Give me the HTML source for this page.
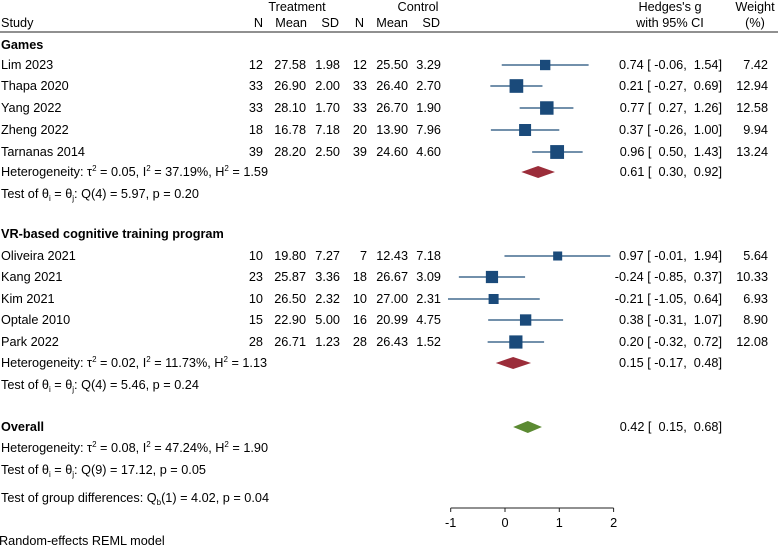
<!DOCTYPE html>
<html><head><meta charset="utf-8"><style>
body{margin:0;background:#fff;}
svg{display:block;font-family:"Liberation Sans",Arial,sans-serif;font-size:12.7px;}
text{white-space:pre;}
</style></head><body>
<svg id="c" width="778" height="547" viewBox="0 0 778 547" xmlns="http://www.w3.org/2000/svg">
<g id="hdr">
<text x="297" y="11" text-anchor="middle">Treatment</text>
<text x="418" y="11" text-anchor="middle">Control</text>
<text x="670" y="11" text-anchor="middle">Hedges's g</text>
<text x="755" y="11" text-anchor="middle">Weight</text>
<text x="1" y="27">Study</text>
<text x="263" y="27" text-anchor="end">N</text>
<text x="307" y="27" text-anchor="end">Mean</text>
<text x="339" y="27" text-anchor="end">SD</text>
<text x="364" y="27" text-anchor="end">N</text>
<text x="408" y="27" text-anchor="end">Mean</text>
<text x="440" y="27" text-anchor="end">SD</text>
<text x="670" y="27" text-anchor="middle">with 95% CI</text>
<text x="755" y="27" text-anchor="middle">(%)</text>
<line x1="0" y1="32" x2="778" y2="32" stroke="#222" stroke-width="1"/>
</g>
<g id="rows"></g>
<g id="axis"></g>
</svg>
<script>
const studies=["Lim 2023","Thapa 2020","Yang 2022","Zheng 2022","Tarnanas 2014","Oliveira 2021","Kang 2021","Kim 2021","Optale 2010","Park 2022"];
const tN=[12,33,33,18,39,10,23,10,15,28];
const tMean=["27.58","26.90","28.10","16.78","28.20","19.80","25.87","26.50","22.90","26.71"];
const tSD=["1.98","2.00","1.70","7.18","2.50","7.27","3.36","2.32","5.00","1.23"];
const cN=[12,33,33,20,39,7,18,10,16,28];
const cMean=["25.50","26.40","26.70","13.90","24.60","12.43","26.67","27.00","20.99","26.43"];
const cSD=["3.29","2.70","1.90","7.96","4.60","7.18","3.09","2.31","4.75","1.52"];
const g=[0.74,0.21,0.77,0.37,0.96,0.97,-0.24,-0.21,0.38,0.20];
const lo=[-0.06,-0.27,0.27,-0.26,0.50,-0.01,-0.85,-1.05,-0.31,-0.32];
const hi=[1.54,0.69,1.26,1.00,1.43,1.94,0.37,0.64,1.07,0.72];
const weight=[7.42,12.94,12.58,9.94,13.24,5.64,10.33,6.93,8.90,12.08];
const pooled=[0.61,0.15,0.42];
const pooledLo=[0.30,-0.17,0.15];
const pooledHi=[0.92,0.48,0.68];
const ticks=[-1,0,1,2];
const rowY=[65,86,108,130,152,256,277,299,320,342];
const poolY=[172,363,427];

const NS="http://www.w3.org/2000/svg";
const X=v=>505+v*54.3;
const rows=document.getElementById('rows');
function mk(tag,attrs,parent,txt){const e=document.createElementNS(NS,tag);for(const k in attrs)e.setAttribute(k,attrs[k]);if(txt!==undefined)e.textContent=txt;parent.appendChild(e);return e;}
const fm=v=>(v<0?"-":" ")+Math.abs(v).toFixed(2);
const fmt=(v,l,h)=>(v<0?"-":"")+Math.abs(v).toFixed(2)+" [ "+fm(l)+", "+fm(h)+"]";

function label(x,y,t,anchor,bold,name){
  const e=mk('text',{x:x,y:y+4,'text-anchor':anchor||'start'},rows,t);
  if(bold)e.setAttribute('font-weight','bold');
  
  
  return e;
}
label(1,45,"Games","start",true,"group-games");
label(1,234,"VR-based cognitive training program","start",true,"group-vr");
label(1,427,"Overall","start",true,"overall-label");

for(let i=0;i<studies.length;i++){
  const y=rowY[i];
  label(1,y,studies[i],"start",false,"study-name");
  label(263,y,String(tN[i]),"end",false,"treatment-n");
  label(306,y,tMean[i],"end",false,"treatment-mean");
  label(340,y,tSD[i],"end",false,"treatment-sd");
  label(367,y,String(cN[i]),"end",false,"control-n");
  label(408,y,cMean[i],"end",false,"control-mean");
  label(441,y,cSD[i],"end",false,"control-sd");
  const ln=mk('line',{x1:X(lo[i]),x2:X(hi[i]),y1:y,y2:y,stroke:'#1f4e79','stroke-width':1.3},rows);
  
  
  const s=3.8*Math.sqrt(weight[i]);
  const r=mk('rect',{x:X(g[i])-s/2,y:y-s/2,width:s,height:s,fill:'#1a4a7a'},rows);
  
  
  label(722,y,fmt(g[i],lo[i],hi[i]),"end",false,"effect-ci-text");
  label(768,y,weight[i].toFixed(2),"end",false,"weight-text");
}
const dcol=['#9b2d3a','#9b2d3a','#5b8a32'];
for(let j=0;j<3;j++){
  const y=poolY[j];
  const d=mk('polygon',{points:`${X(pooledLo[j])},${y} ${X(pooled[j])},${y-6} ${X(pooledHi[j])},${y} ${X(pooled[j])},${y+6}`,fill:dcol[j]},rows);
  
  
  label(722,y,fmt(pooled[j],pooledLo[j],pooledHi[j]),"end",false,"pooled-ci-text");
}
function rich(y,html,name){
  const t=mk('text',{x:1,y:y+4},rows);
  t.innerHTML=html;
  
  
}
const sup=(a)=>'<tspan dy="-5" font-size="8">2</tspan><tspan dy="5">'+a+'</tspan>';
const sub=(c,a)=>'<tspan dy="3" font-size="8">'+c+'</tspan><tspan dy="-3">'+a+'</tspan>';
rich(172,'Heterogeneity: τ'+sup(' = 0.05, I')+sup(' = 37.19%, H')+sup(' = 1.59'),'heterogeneity-games');
rich(194,'Test of θ'+sub('i',' = θ')+sub('j',': Q(4) = 5.97, p = 0.20'),'test-games');
rich(363,'Heterogeneity: τ'+sup(' = 0.02, I')+sup(' = 11.73%, H')+sup(' = 1.13'),'heterogeneity-vr');
rich(385,'Test of θ'+sub('i',' = θ')+sub('j',': Q(4) = 5.46, p = 0.24'),'test-vr');
rich(448,'Heterogeneity: τ'+sup(' = 0.08, I')+sup(' = 47.24%, H')+sup(' = 1.90'),'heterogeneity-overall');
rich(470,'Test of θ'+sub('i',' = θ')+sub('j',': Q(9) = 17.12, p = 0.05'),'test-overall');
rich(498,'Test of group differences: Q'+sub('b','(1) = 4.02, p = 0.04'),'test-group-differences');
const rm=mk('text',{x:-1,y:545},rows,'Random-effects REML model');



const ax=document.getElementById('axis');
const al=mk('line',{x1:X(ticks[0]),x2:X(ticks[ticks.length-1]),y1:508,y2:508,stroke:'#222','stroke-width':1},ax);


ticks.forEach(t=>{
  const tk=mk('line',{x1:X(t),x2:X(t),y1:508,y2:512,stroke:'#222','stroke-width':1},ax);
  
  
  const tl=mk('text',{x:X(t),y:527,'text-anchor':'middle'},ax,String(t));
  
  
});
</script>
</body></html>
